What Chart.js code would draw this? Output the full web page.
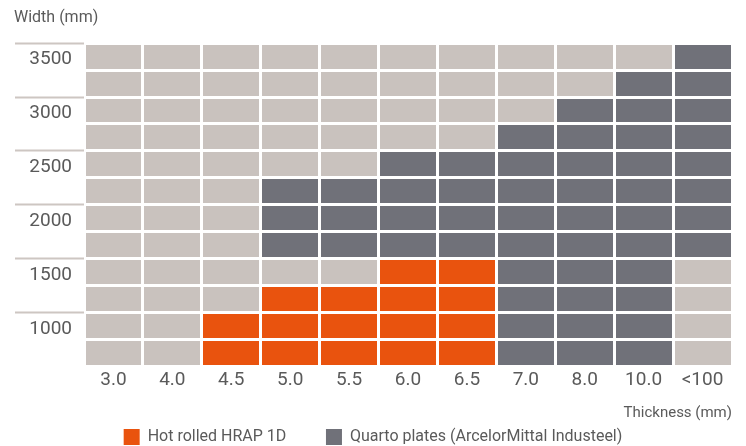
<!DOCTYPE html>
<html>
<head>
<meta charset="utf-8">
<script src="https://cdn.jsdelivr.net/npm/chart.js@4"></script>
<style>
  html, body { margin: 0; padding: 0; background: #ffffff; overflow: hidden; }
  #wrap { width: 746px; height: 446px; position: relative; }
</style>
</head>
<body>
<div id="wrap"><canvas id="c"></canvas></div>
<script>
// ---- Data ----
const thickness = ['3.0', '4.0', '4.5', '5.0', '5.5', '6.0', '6.5', '7.0', '8.0', '10.0', '<100'];
const widthStep = 250;            // each grid row covers one 250 mm width step
const widthLow = 750;             // lowest width row
const widthHigh = 3500;           // highest width row
const widthLabels = [1000, 1500, 2000, 2500, 3000, 3500];

// Hot rolled HRAP 1D: width range (row values) per thickness, null = not available
const hrapMin = [null, null, 750, 750, 750, 750, 750, null, null, null, null];
const hrapMax = [null, null, 1000, 1250, 1250, 1500, 1500, null, null, null, null];

// Quarto plates (ArcelorMittal Industeel)
const quartoMin = [null, null, null, 1750, 1750, 1750, 1750, 750, 750, 750, 1750];
const quartoMax = [null, null, null, 2250, 2250, 2500, 2500, 2750, 3000, 3250, 3500];

const seriesNames = ['Hot rolled HRAP 1D', 'Quarto plates (ArcelorMittal Industeel)'];

// ---- Build ----
const half = widthStep / 2;
const toRange = (lo, hi) => lo.map((v, i) => (v === null ? null : [v - half, hi[i] + half]));
const fullRange = thickness.map(() => [widthLow - half, widthHigh + half]);

const yTicks = [];
for (let v = widthLow - half; v <= widthHigh + half; v += half) yTicks.push(v);
const isBoundary = v => ((v - (widthLow - half)) % widthStep) === 0;

const FONT = 'Roboto, "DejaVu Sans", sans-serif';
const TXT = '#5a5a5a';

new Chart(document.getElementById('c'), {
  type: 'bar',
  data: {
    labels: thickness,
    datasets: [
      { label: 'all', data: fullRange, backgroundColor: '#c9c2be', order: 3 },
      { label: seriesNames[0], data: toRange(hrapMin, hrapMax), backgroundColor: '#e9530e', order: 1 },
      { label: seriesNames[1], data: toRange(quartoMin, quartoMax), backgroundColor: '#707179', order: 1 }
    ]
  },
  options: {
    responsive: true,
    maintainAspectRatio: false,
    animation: false,
    grouped: false,
    barPercentage: 1,
    categoryPercentage: 1,
    layout: { padding: { left: 14, right: 14, top: 0, bottom: -9 } },
    plugins: {
      tooltip: { enabled: false },
      title: {
        display: true,
        text: 'Width (mm)',
        align: 'start',
        color: TXT,
        font: { family: FONT, size: 16, weight: 'normal' },
        padding: { top: 8, bottom: 16 }
      },
      legend: {
        position: 'bottom',
        labels: {
          filter: item => item.datasetIndex !== 0,
          generateLabels: chart => {
            const items = Chart.defaults.plugins.legend.labels.generateLabels(chart);
            items.forEach(it => { if (it.datasetIndex === 1) it.text = it.text + '\u2003\u2003'; });
            return items;
          },
          boxWidth: 16,
          boxHeight: 16,
          padding: 7,
          color: TXT,
          font: { family: FONT, size: 16, weight: 'normal' }
        }
      }
    },
    scales: {
      x: {
        offset: true,
        border: { display: false },
        grid: { offset: true, color: '#ffffff', lineWidth: 3, z: 1, drawTicks: false },
        ticks: { color: TXT, padding: 3, font: { family: FONT, size: 19, weight: 'normal' } },
        title: {
          display: true,
          text: 'Thickness (mm)',
          align: 'end',
          color: TXT,
          font: { family: FONT, size: 15, weight: 'normal' },
          padding: { top: 9, bottom: 0 }
        }
      },
      y: {
        min: widthLow - half,
        max: widthHigh + half,
        border: { display: false },
        afterBuildTicks: s => { s.ticks = yTicks.map(v => ({ value: v })); },
        afterFit: s => { s.width = 70; },
        grid: {
          z: 1,
          lineWidth: 3,
          tickWidth: 2,
          tickLength: 69,
          color: ctx => (isBoundary(ctx.tick.value) ? '#ffffff' : 'rgba(0,0,0,0)'),
          tickColor: ctx => (isBoundary(ctx.tick.value) && widthLabels.includes(ctx.tick.value - half) ? '#cdc6c2' : 'rgba(0,0,0,0)')
        },
        ticks: {
          autoSkip: false,
          padding: -57,
          labelOffset: 3,
          color: TXT,
          font: { family: FONT, size: 19, weight: 'normal' },
          callback: v => (widthLabels.includes(v) ? String(v) : '')
        }
      }
    }
  }
});
</script>
</body>
</html>
